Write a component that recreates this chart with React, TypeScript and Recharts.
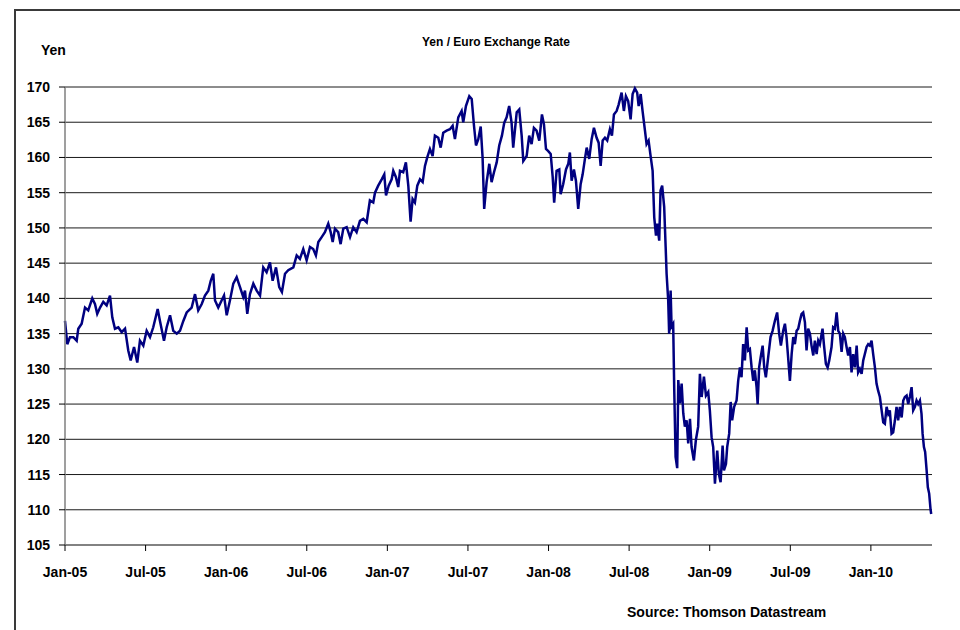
import { LineChart, Line, XAxis, YAxis, CartesianGrid } from 'recharts'

// months elapsed since the start of January 2005, one entry per sampled day
const months = [
  0, 0.17, 0.37, 0.62, 0.87, 0.99, 1.24, 1.49, 1.73, 2.03, 2.23, 2.4, 2.61, 2.85, 3.1, 3.35, 3.52, 3.72, 3.97, 4.22,
  4.47, 4.71, 4.89, 5.14, 5.38, 5.58, 5.83, 6.08, 6.33, 6.57, 6.9, 7.07, 7.37, 7.57, 7.82, 8.06, 8.32, 8.56, 8.81, 9.06,
  9.43, 9.68, 9.92, 10.18, 10.42, 10.67, 10.85, 11.04, 11.17, 11.41, 11.66, 11.84, 12.04, 12.28, 12.53, 12.78, 13.03, 13.27, 13.4, 13.57,
  13.77, 14.02, 14.27, 14.52, 14.76, 15.01, 15.26, 15.46, 15.71, 15.95, 16.15, 16.38, 16.62, 17.0, 17.25, 17.49, 17.74, 17.99, 18.24, 18.48,
  18.68, 18.86, 19.11, 19.35, 19.6, 19.78, 19.93, 20.1, 20.34, 20.52, 20.72, 20.97, 21.22, 21.46, 21.71, 21.96, 22.21, 22.46, 22.7, 22.95,
  23.08, 23.32, 23.58, 23.77, 23.9, 24.1, 24.32, 24.44, 24.64, 24.81, 24.94, 25.18, 25.38, 25.56, 25.73, 25.88, 26.05, 26.23, 26.43, 26.63,
  26.8, 26.97, 27.17, 27.37, 27.54, 27.79, 27.97, 28.16, 28.41, 28.66, 28.86, 29.03, 29.28, 29.53, 29.65, 29.85, 30.1, 30.28, 30.45, 30.6,
  30.77, 30.95, 31.09, 31.21, 31.39, 31.59, 31.76, 31.94, 32.14, 32.33, 32.53, 32.7, 32.88, 33.07, 33.25, 33.37, 33.63, 33.82, 34.0, 34.12,
  34.37, 34.56, 34.74, 34.91, 35.11, 35.31, 35.51, 35.66, 35.81, 35.98, 36.16, 36.31, 36.42, 36.6, 36.8, 36.9, 37.09, 37.3, 37.47, 37.59,
  37.72, 37.89, 38.04, 38.21, 38.39, 38.54, 38.71, 38.84, 39.03, 39.21, 39.38, 39.58, 39.73, 39.88, 40.03, 40.2, 40.37, 40.57, 40.72, 40.87,
  41.07, 41.22, 41.44, 41.61, 41.76, 41.93, 42.11, 42.26, 42.43, 42.6, 42.71, 42.86, 43.0, 43.18, 43.3, 43.45, 43.6, 43.75, 43.87, 44.0,
  44.09, 44.24, 44.34, 44.46, 44.61, 44.72, 44.79, 44.91, 44.98, 45.09, 45.16, 45.28, 45.36, 45.46, 45.58, 45.66, 45.78, 45.91, 46.03, 46.15,
  46.28, 46.4, 46.53, 46.65, 46.82, 46.97, 47.14, 47.27, 47.4, 47.57, 47.72, 47.89, 48.01, 48.14, 48.26, 48.39, 48.56, 48.68, 48.81, 48.96,
  49.06, 49.21, 49.3, 49.45, 49.56, 49.67, 49.82, 50.0, 50.12, 50.25, 50.37, 50.49, 50.62, 50.75, 50.87, 50.99, 51.12, 51.24, 51.36, 51.49,
  51.57, 51.68, 51.79, 51.94, 52.06, 52.18, 52.35, 52.53, 52.68, 52.85, 53.02, 53.17, 53.3, 53.47, 53.6, 53.72, 53.84, 53.97, 54.1, 54.22,
  54.34, 54.47, 54.59, 54.71, 54.84, 54.96, 55.09, 55.21, 55.33, 55.46, 55.58, 55.71, 55.83, 55.96, 56.08, 56.2, 56.4, 56.5, 56.65, 56.78,
  56.9, 57.07, 57.19, 57.32, 57.45, 57.57, 57.69, 57.82, 57.94, 58.06, 58.19, 58.31, 58.44, 58.56, 58.68, 58.81, 58.94, 59.05, 59.18, 59.31,
  59.43, 59.55, 59.68, 59.8, 59.92, 60.05, 60.17, 60.3, 60.42, 60.54, 60.67, 60.8, 60.92, 61.04, 61.17, 61.29, 61.41, 61.54, 61.66, 61.79,
  61.91, 62.03, 62.16, 62.29, 62.41, 62.53, 62.66, 62.78, 62.9, 63.03, 63.15, 63.28, 63.4, 63.52, 63.65, 63.77, 63.85, 63.95, 64.04, 64.15,
  64.24, 64.34, 64.44, 64.49,
]

const yen = [
  136.8, 133.5, 134.5, 134.5, 134.0, 135.7, 136.4, 138.7, 138.3, 140.0, 139.2, 137.8, 138.7, 139.5, 139.0, 140.4, 137.3, 135.7, 135.9, 135.2,
  135.7, 132.6, 131.2, 133.1, 130.9, 134.0, 133.3, 135.4, 134.5, 135.9, 138.5, 136.8, 134.0, 135.9, 137.6, 135.4, 135.0, 135.4, 136.8, 138.0,
  138.7, 140.6, 138.3, 139.2, 140.4, 141.1, 142.5, 143.5, 139.7, 138.7, 139.7, 140.4, 137.6, 139.7, 142.1, 143.0, 141.6, 140.2, 141.1, 137.8,
  140.6, 142.1, 141.1, 140.4, 144.4, 143.7, 145.1, 142.5, 144.4, 141.6, 140.9, 143.5, 144.0, 144.4, 146.1, 145.6, 147.0, 145.4, 147.3, 147.0,
  146.1, 148.0, 148.7, 149.4, 150.6, 149.4, 148.0, 149.9, 149.4, 147.7, 149.9, 150.1, 148.7, 150.1, 149.4, 151.0, 151.3, 150.8, 153.9, 153.6,
  155.0, 156.0, 156.9, 157.6, 154.6, 156.0, 156.9, 158.1, 157.2, 155.8, 158.1, 157.9, 159.3, 156.0, 150.9, 154.1, 153.6, 156.0, 156.9, 156.5,
  158.8, 160.0, 161.2, 160.2, 163.1, 162.8, 161.4, 163.5, 163.8, 164.0, 164.5, 162.6, 165.7, 166.6, 165.0, 167.3, 168.7, 168.3, 164.5, 161.7,
  162.6, 164.4, 160.0, 152.7, 156.5, 159.1, 156.5, 157.9, 159.3, 161.7, 163.1, 164.9, 165.7, 167.3, 164.9, 161.4, 166.4, 166.8, 163.1, 159.5,
  160.2, 163.1, 161.9, 164.2, 163.8, 162.4, 166.1, 164.7, 161.2, 160.9, 160.5, 157.2, 153.6, 158.1, 158.3, 154.8, 156.2, 158.3, 159.1, 160.7,
  156.7, 158.3, 156.7, 152.7, 156.2, 157.6, 159.8, 161.4, 159.8, 162.6, 164.2, 162.8, 162.1, 158.8, 162.4, 162.8, 162.4, 164.0, 163.1, 166.1,
  166.6, 167.5, 169.2, 166.6, 168.7, 168.0, 165.4, 169.0, 169.8, 169.2, 167.3, 169.0, 166.6, 163.8, 161.9, 162.4, 160.2, 158.1, 151.5, 148.9,
  150.6, 148.2, 155.3, 156.0, 153.0, 147.3, 143.5, 139.7, 135.0, 141.1, 136.0, 136.4, 127.0, 117.5, 115.9, 128.4, 125.1, 127.9, 123.7, 121.8,
  122.7, 119.4, 122.9, 118.9, 117.0, 119.9, 121.8, 129.3, 126.0, 128.9, 126.2, 126.7, 124.1, 120.3, 118.9, 113.7, 118.4, 115.1, 113.9, 119.1,
  115.6, 116.5, 118.9, 120.8, 125.3, 122.7, 124.6, 125.5, 128.3, 130.2, 128.8, 133.5, 131.2, 135.9, 132.6, 132.8, 130.2, 128.3, 129.8, 127.4,
  125.0, 130.2, 131.6, 133.3, 130.2, 128.8, 131.6, 134.5, 135.4, 136.8, 138.0, 135.0, 133.3, 135.4, 136.4, 134.5, 131.6, 128.3, 132.1, 134.5,
  133.5, 135.4, 135.7, 136.8, 137.8, 138.0, 136.6, 132.6, 135.7, 135.0, 133.3, 131.9, 134.0, 132.1, 134.0, 133.5, 135.7, 133.5, 130.7, 130.2,
  131.2, 133.1, 135.9, 135.7, 138.0, 135.4, 135.0, 132.4, 135.0, 134.5, 133.1, 131.9, 133.1, 129.5, 132.1, 130.2, 133.3, 129.5, 130.0, 129.3,
  131.2, 132.1, 133.1, 133.5, 133.3, 134.0, 132.1, 130.2, 127.9, 126.9, 126.0, 124.1, 122.4, 122.2, 124.6, 123.6, 124.1, 120.8, 121.0, 122.7,
  124.6, 122.7, 124.6, 123.1, 125.5, 126.0, 126.2, 125.0, 126.0, 127.4, 124.1, 124.6, 125.5, 125.0, 125.5, 123.6, 120.8, 118.9, 118.2, 115.6,
  113.2, 112.3, 110.1, 109.4,
]

const monthTicks = [0, 6, 12, 18, 24, 30, 36, 42, 48, 54, 60]
const monthLabels = ['Jan-05', 'Jul-05', 'Jan-06', 'Jul-06', 'Jan-07', 'Jul-07', 'Jan-08', 'Jul-08', 'Jan-09', 'Jul-09', 'Jan-10']
const yenTicks = [105, 110, 115, 120, 125, 130, 135, 140, 145, 150, 155, 160, 165, 170]

const data = months.map((m, i) => ({ m, yen: yen[i] }))

const font = '"Liberation Sans", Arial, sans-serif'
const tickStyle = { fill: '#000', fontSize: 14, fontWeight: 700, fontFamily: font }

export default function App() {
  return (
    <div
      style={{
        position: 'absolute',
        left: 0,
        top: 0,
        width: 960,
        height: 630,
        overflow: 'hidden',
        background: '#fff',
        fontFamily: font,
      }}
    >
      <div
        style={{
          position: 'absolute',
          left: 14,
          top: 9,
          width: 1000,
          height: 700,
          border: '2px solid #3a3a3a',
        }}
      />
      <div
        style={{
          position: 'absolute',
          left: 0,
          width: 992,
          top: 35,
          textAlign: 'center',
          fontSize: 12,
          fontWeight: 700,
        }}
      >
        Yen / Euro Exchange Rate
      </div>
      <div style={{ position: 'absolute', left: 41, top: 42, fontSize: 14, fontWeight: 700 }}>Yen</div>
      <div style={{ position: 'absolute', left: 627, top: 604, fontSize: 14, fontWeight: 700 }}>
        Source: Thomson Datastream
      </div>
      <div style={{ position: 'absolute', left: 0, top: 0 }}>
        <LineChart width={960} height={630} data={data} margin={{ top: 87, right: 28, bottom: 55, left: 0 }}>
          <CartesianGrid horizontal vertical={false} stroke="#1a1a1a" strokeWidth={1} />
          <XAxis
            dataKey="m"
            type="number"
            domain={[0, 64.55]}
            ticks={monthTicks}
            tickFormatter={(v) => monthLabels[monthTicks.indexOf(v)] ?? ''}
            tick={tickStyle}
            height={30}
            axisLine={{ stroke: '#7f7f7f', strokeWidth: 1.5 }}
            tickLine={{ stroke: '#000' }}
            tickSize={6}
            tickMargin={16}
            interval={0}
          />
          <YAxis
            type="number"
            domain={[105, 170]}
            ticks={yenTicks}
            tick={tickStyle}
            width={65}
            axisLine={{ stroke: '#7f7f7f', strokeWidth: 1.5 }}
            tickLine={{ stroke: '#000' }}
            tickSize={6}
            tickMargin={9}
            interval={0}
          />
          <Line
            type="linear"
            dataKey="yen"
            stroke="#000080"
            strokeWidth={2.5}
            dot={false}
            isAnimationActive={false}
          />
        </LineChart>
      </div>
    </div>
  )
}
